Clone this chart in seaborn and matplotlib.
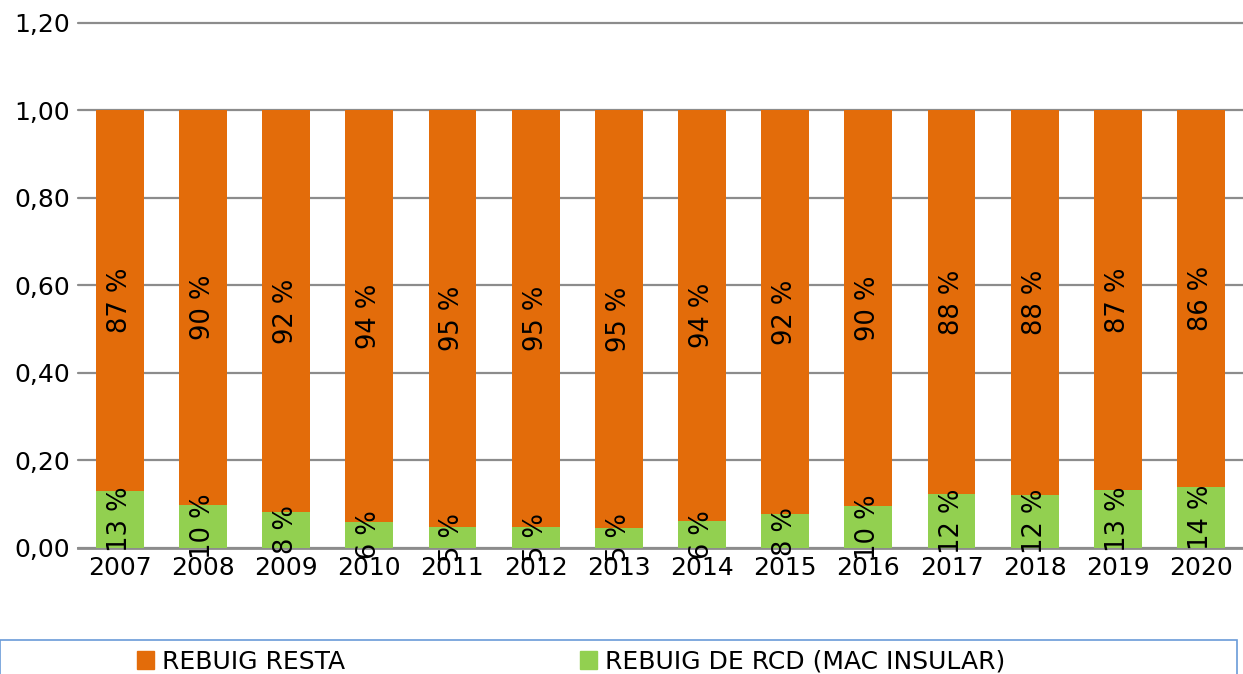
import matplotlib
matplotlib.use("Agg")
import matplotlib.pyplot as plt
from matplotlib.patches import Rectangle, Patch
import seaborn as sns
import pandas as pd

years = ["2007", "2008", "2009", "2010", "2011", "2012", "2013",
         "2014", "2015", "2016", "2017", "2018", "2019", "2020"]
rcd = [0.130, 0.098, 0.082, 0.059, 0.048, 0.048, 0.046,
       0.062, 0.077, 0.096, 0.123, 0.121, 0.133, 0.139]
resta = [round(1 - v, 3) for v in rcd]

orange = "#E36C0A"
green = "#92D050"

df = pd.DataFrame({"year": years, "rcd": rcd, "resta": resta})
df["total"] = df["rcd"] + df["resta"]

sns.set_style("white")
plt.rcParams["font.family"] = ["DejaVu Sans"]
plt.rcParams["text.color"] = "black"
plt.rcParams["xtick.color"] = "black"
plt.rcParams["ytick.color"] = "black"

fig = plt.figure(figsize=(12.43, 6.74), dpi=100)
ax = fig.add_axes([0.0628, 0.187, 0.937, 0.779])

sns.barplot(data=df, x="year", y="total", color=orange, width=0.575,
            saturation=1, linewidth=0, ax=ax, zorder=2)
sns.barplot(data=df, x="year", y="rcd", color=green, width=0.575,
            saturation=1, linewidth=0, ax=ax, zorder=3)

# segment labels
for i, row in df.iterrows():
    ax.text(i, row["rcd"] / 2, f"{round(row['rcd'] * 100):.0f} %",
            rotation=90, ha="center", va="center", fontsize=18.5, zorder=4)
    ax.text(i, row["rcd"] + row["resta"] / 2, f"{round(row['resta'] * 100):.0f} %",
            rotation=90, ha="center", va="center", fontsize=18.5, zorder=4)

ax.set_ylim(0, 1.2)
ax.set_xlim(-0.5, 13.5)
ax.set_yticks([0, 0.2, 0.4, 0.6, 0.8, 1.0, 1.2])
ax.set_yticklabels([f"{t:.2f}".replace(".", ",") for t in ax.get_yticks()])
ax.yaxis.grid(True, color="#8c8c8c", linewidth=1.6, zorder=0)
for gl in ax.get_ygridlines():
    gl.set_clip_on(False)
ax.set_axisbelow(True)
ax.tick_params(axis="both", length=0, labelsize=18, pad=6)
ax.set_xlabel("")
ax.set_ylabel("")
for s in ["top", "right", "left"]:
    ax.spines[s].set_visible(False)
ax.spines["bottom"].set_color("#8c8c8c")
ax.spines["bottom"].set_linewidth(2)

# legend box
fig.patches.append(Rectangle((0.0, -0.02), 0.9955, 0.07, transform=fig.transFigure,
                             fill=False, edgecolor="#6A9BD8", linewidth=1.2))
handles = [Patch(color=orange, label="REBUIG RESTA"),
           Patch(color=green, label="REBUIG DE RCD (MAC INSULAR)")]
fig.legend(handles=handles, loc="center left", bbox_to_anchor=(0.102, 0.018),
           ncol=2, frameon=False, fontsize=18, handlelength=0.7, handleheight=0.7,
           handletextpad=0.3, columnspacing=9.4, borderaxespad=0)

fig.savefig("out.png", dpi=100)
